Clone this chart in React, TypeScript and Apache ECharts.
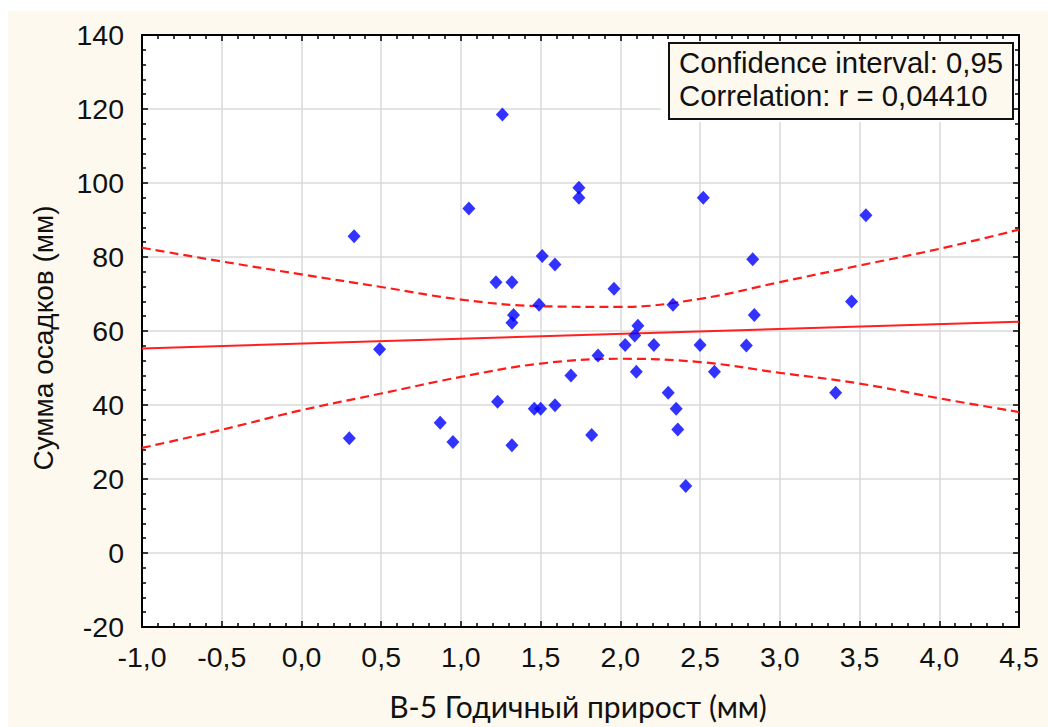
import React, { useEffect, useRef } from "react";
import * as echarts from "echarts";

// Scatter data: x = годичный прирост (мм), y = сумма осадков (мм)
const pointsX = [0.30, 0.33, 0.49, 0.87, 0.95, 1.05, 1.22, 1.32, 1.23, 1.32, 1.33, 1.32, 1.49, 1.51, 1.59, 1.46, 1.50, 1.59, 1.69, 1.74, 1.74, 1.82, 1.86, 1.96, 2.03, 2.09, 2.11, 2.10, 2.21, 2.30, 2.33, 2.35, 2.36, 2.41, 2.52, 2.50, 2.59, 2.79, 2.83, 2.84, 3.54, 3.45, 3.35, 1.26];
const pointsY = [31.0, 85.6, 55.1, 35.2, 30.0, 93.1, 73.2, 73.2, 40.9, 29.1, 64.3, 62.2, 67.1, 80.3, 78.0, 39.0, 39.0, 39.9, 48.0, 98.7, 96.0, 31.9, 53.4, 71.4, 56.2, 58.8, 61.4, 49.0, 56.2, 43.3, 67.1, 39.0, 33.4, 18.1, 96.0, 56.2, 49.0, 56.1, 79.4, 64.3, 91.3, 68.0, 43.3, 118.5];

// Regression line
const fitX = [-1.0, 4.5];
const fitY = [55.3, 62.5];

// 95% confidence band
const bandX = [-1.0, -0.5, 0.0, 0.5, 1.0, 1.5, 2.0, 2.5, 3.0, 3.5, 4.0, 4.5];
const bandUpper = [82.5, 78.8, 75.3, 71.9, 68.5, 66.7, 66.5, 68.7, 73.2, 77.7, 82.2, 87.4];
const bandLower = [28.4, 33.3, 38.6, 43.1, 47.6, 51.2, 52.5, 51.6, 48.7, 45.8, 41.8, 38.1];

const xTitle = "В-5 Годичный прирост (мм)";
const yTitle = "Сумма осадков (мм)";
const legendLines = ["Confidence interval: 0,95", "Correlation: r = 0,04410"];

const X_MIN = -1.0, X_MAX = 4.5, X_STEP = 0.5;
const Y_MIN = -20, Y_MAX = 140, Y_STEP = 20;

const CREAM = "#FEF9EF";
const AXIS_FONT = "'Liberation Sans', Arial, sans-serif";

export default function App() {
  const ref = useRef<HTMLDivElement>(null);

  useEffect(() => {
    if (!ref.current) return;
    const chart = echarts.init(ref.current, undefined, { renderer: "svg" });

    const zip = (xs: number[], ys: number[]) => xs.map((x, i) => [x, ys[i]]);
    const fmtX = (v: number) => v.toFixed(1).replace(".", ",");

    const tickCommon = {
      axisLine: { show: true, onZero: false, lineStyle: { color: "#000", width: 2 } },
      axisTick: { show: true, inside: true, length: 6, lineStyle: { color: "#000", width: 1.5 } },
      minorTick: { show: true, splitNumber: 5, length: 4, lineStyle: { color: "#000", width: 1.5 } },
    };

    chart.setOption({
      animation: false,
      backgroundColor: CREAM,
      grid: { left: 134, top: 24, right: 29, bottom: 100, containLabel: false, show: true, backgroundColor: "#fff", borderWidth: 0 },
      xAxis: [
        {
          type: "value", position: "bottom", min: X_MIN, max: X_MAX, interval: X_STEP,
          ...tickCommon,
          splitLine: { show: true, lineStyle: { color: "#dadada", width: 1.5 } },
          axisLabel: { formatter: fmtX, color: "#111", fontSize: 28.5, fontFamily: AXIS_FONT, margin: 15 },
        },
        {
          type: "value", position: "top", min: X_MIN, max: X_MAX, interval: X_STEP,
          ...tickCommon,
          splitLine: { show: false },
          axisLabel: { show: false },
        },
      ],
      yAxis: [
        {
          type: "value", position: "left", min: Y_MIN, max: Y_MAX, interval: Y_STEP,
          ...tickCommon,
          splitLine: { show: true, lineStyle: { color: "#dadada", width: 1.5 } },
          axisLabel: { color: "#111", fontSize: 28.5, fontFamily: AXIS_FONT, margin: 18 },
        },
        {
          type: "value", position: "right", min: Y_MIN, max: Y_MAX, interval: Y_STEP,
          ...tickCommon,
          splitLine: { show: false },
          axisLabel: { show: false },
        },
      ],
      series: [
        {
          type: "line", data: zip(bandX, bandUpper), smooth: 0.4, symbol: "none",
          lineStyle: { color: "#ff1a1a", width: 2.2, type: [9, 5] }, z: 3,
        },
        {
          type: "line", data: zip(bandX, bandLower), smooth: 0.4, symbol: "none",
          lineStyle: { color: "#ff1a1a", width: 2.2, type: [9, 5] }, z: 3,
        },
        {
          type: "line", data: zip(fitX, fitY), symbol: "none",
          lineStyle: { color: "#ff2020", width: 2 }, z: 3,
        },
        {
          type: "scatter", data: zip(pointsX, pointsY), symbol: "diamond", symbolSize: [13, 14],
          itemStyle: { color: "#0000ff" }, z: 4,
        },
      ],
      graphic: [
        // axis titles
        {
          type: "text", z: 50, x: 570, y: 695,
          style: { text: xTitle, fill: "#111", fontSize: 30, fontFamily: "Lato, sans-serif", align: "center", verticalAlign: "middle" },
        },
        {
          type: "text", z: 50, x: 35, y: 327, rotation: Math.PI / 2,
          style: { text: yTitle, fill: "#111", fontSize: 28, fontFamily: AXIS_FONT, align: "center", verticalAlign: "middle" },
        },
        // legend box
        { type: "rect", z: 100, shape: { x: 653, y: 31, width: 352, height: 80 }, style: { fill: "#fff" } },
        { type: "rect", z: 101, shape: { x: 661, y: 32, width: 344, height: 76 }, style: { fill: CREAM, stroke: "#111", lineWidth: 2 } },
        {
          type: "text", z: 102, x: 671, y: 51,
          style: { text: legendLines[0], fill: "#111", fontSize: 29.3, fontFamily: AXIS_FONT, verticalAlign: "middle" },
        },
        {
          type: "text", z: 102, x: 671, y: 84,
          style: { text: legendLines[1], fill: "#111", fontSize: 29.3, fontFamily: AXIS_FONT, verticalAlign: "middle" },
        },
      ],
    });

    return () => chart.dispose();
  }, []);

  return (
    <div
      ref={ref}
      style={{ position: "absolute", left: 8, top: 11, width: 1040, height: 716 }}
    />
  );
}
